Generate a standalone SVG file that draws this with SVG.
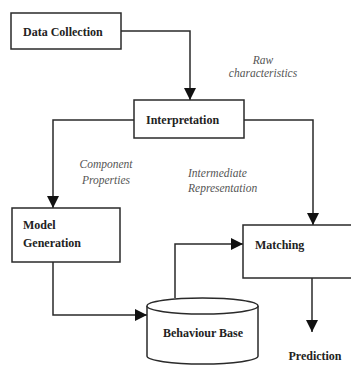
<svg xmlns="http://www.w3.org/2000/svg" width="351" height="365" viewBox="0 0 351 365">
<defs>
<style>
.box{fill:#fff;stroke:#2a2a2a;stroke-width:1.5}
.lbl{font-family:"Liberation Serif","Times New Roman",serif;font-weight:bold;font-size:12px;fill:#222}
.edge{font-family:"Liberation Serif","Times New Roman",serif;font-style:italic;font-size:11.5px;fill:#555}
.conn{fill:none;stroke:#2a2a2a;stroke-width:1.5}
</style>
<marker id="arr" markerUnits="userSpaceOnUse" markerWidth="12" markerHeight="12" viewBox="0 0 10 10" refX="10" refY="5" orient="auto">
<path d="M0,0 L10,5 L0,10 Z" fill="#111"/>
</marker>
</defs>
<rect width="351" height="365" fill="#fff"/>
<g id="connectors">
<path class="conn" d="M121,31 H190 V100" marker-end="url(#arr)"/>
<path class="conn" d="M134,120 H53 V208" marker-end="url(#arr)"/>
<path class="conn" d="M244,120 H313 V225" marker-end="url(#arr)"/>
<path class="conn" d="M53,262 V315 H147" marker-end="url(#arr)"/>
<path class="conn" d="M175,298 V244 H243" marker-end="url(#arr)"/>
<path class="conn" d="M312,278 V332" marker-end="url(#arr)"/>
</g>
<g id="data-collection">
<rect class="box" x="11" y="13" width="110" height="36"/>
<text class="lbl" x="23" y="36">Data Collection</text>
</g>
<g id="interpretation">
<rect class="box" x="134" y="100" width="110" height="38"/>
<text class="lbl" x="146" y="124">Interpretation</text>
</g>
<g id="model-generation">
<rect class="box" x="12" y="208" width="108" height="54"/>
<text class="lbl" x="23" y="229">Model</text>
<text class="lbl" x="23" y="247">Generation</text>
</g>
<g id="matching">
<rect class="box" x="243" y="225" width="120" height="53"/>
<text class="lbl" x="255" y="249">Matching</text>
</g>
<g id="behaviour-base">
<path class="box" d="M147,306 V356 A55.5,8 0 0 0 258,356 V306"/>
<ellipse class="box" cx="202.5" cy="306" rx="55.5" ry="8"/>
<text class="lbl" x="203" y="337" text-anchor="middle">Behaviour Base</text>
</g>
<g id="prediction">
<text class="lbl" x="315" y="360" text-anchor="middle">Prediction</text>
</g>
<g id="edge-labels">
<text class="edge" x="263" y="64" text-anchor="middle">Raw</text>
<text class="edge" x="263" y="77" text-anchor="middle">characteristics</text>
<text class="edge" x="106" y="168" text-anchor="middle">Component</text>
<text class="edge" x="106" y="184" text-anchor="middle">Properties</text>
<text class="edge" x="188" y="177">Intermediate</text>
<text class="edge" x="188" y="192">Representation</text>
</g>
</svg>
